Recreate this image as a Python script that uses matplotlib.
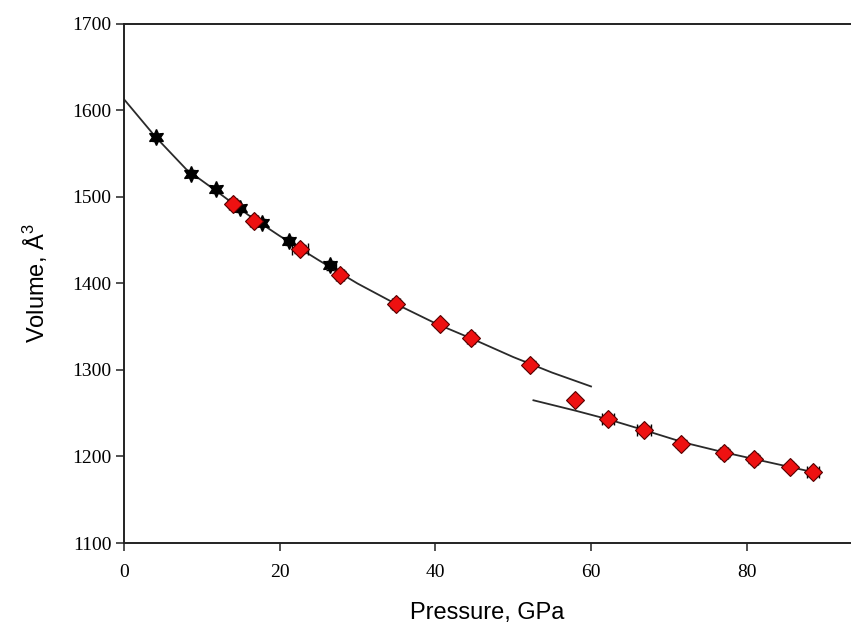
import numpy as np
import matplotlib
matplotlib.use('Agg')
import matplotlib.pyplot as plt

plt.rcParams['mathtext.fontset'] = 'custom'
plt.rcParams['mathtext.rm'] = 'Liberation Sans'

# black stars (first data set)
starP = [4.1, 8.6, 11.8, 14.9, 17.7, 21.2, 26.5]
starV = [1569, 1527, 1509, 1487, 1470, 1449, 1421]
starPerr = [0.5, 0.5, 0.5, 0.6, 0.6, 0.7, 0.7]
starVerr = [4, 4, 4, 4, 4, 5, 5]

# red diamonds (second data set)
diaP = [14.0, 16.7, 22.6, 27.7, 34.9, 40.6, 44.6, 52.2, 58.0, 62.2, 66.8, 71.5, 77.1, 81.0, 85.6, 88.5]
diaV = [1492, 1472, 1440, 1410, 1376, 1353, 1337, 1306, 1265, 1243, 1231, 1215, 1204, 1197, 1188, 1182]
diaPerr = [0.5, 0.5, 1.0, 0.5, 0.5, 0.3, 0.5, 0.3, 0.0, 0.8, 0.85, 0.3, 0.5, 0.4, 0.3, 0.8]
diaVerr = [4, 3, 5, 4, 4, 3, 4, 4, 0, 4, 4, 4, 5, 5, 3, 4]

# fitted curves
fit1P = [0, 4, 8, 12, 16, 20, 25, 30, 35, 40, 45, 50, 55, 60]
fit1V = [1613, 1570, 1532, 1506, 1479, 1455, 1427, 1400, 1376, 1354, 1335, 1315, 1297, 1281]
fit2P = [52.6, 58, 62.2, 67, 72, 77, 82, 87, 89]
fit2V = [1265, 1253, 1243, 1230, 1216, 1205, 1195, 1185, 1181]

fig = plt.figure(figsize=(8.51, 6.26), dpi=100)
ax = fig.add_axes([124 / 851, 1 - 543 / 626, 1 - 124 / 851, (543 - 24) / 626])

ax.plot(fit1P, fit1V, color='#2a2a2a', lw=1.3, zorder=2)
ax.plot(fit2P, fit2V, color='#2a2a2a', lw=1.3, zorder=2)

ax.errorbar(starP, starV, xerr=starPerr, yerr=starVerr, fmt='none',
            ecolor='black', elinewidth=1, capsize=3, zorder=3)
ax.plot(starP, starV, ls='none', marker=(6, 1, 0), ms=11.5, color='black', zorder=4)

ax.errorbar(diaP, diaV, xerr=diaPerr, yerr=diaVerr, fmt='none',
            ecolor='black', elinewidth=1, capsize=4, zorder=5)
ax.plot(diaP, diaV, ls='none', marker='D', ms=9.5, markerfacecolor='#ee1111',
        markeredgecolor='#550000', markeredgewidth=0.8, zorder=6)

ax.set_xlim(0, 93.4)
ax.set_ylim(1100, 1700)
ax.set_xticks([0, 20, 40, 60, 80])
ax.set_yticks(np.arange(1100, 1701, 100))

ax.spines['right'].set_visible(False)
for s in ['left', 'bottom', 'top']:
    ax.spines[s].set_linewidth(1.4)
    ax.spines[s].set_color('#222222')

ax.tick_params(direction='out', length=6, width=1.1, color='#222222')
for lab in ax.get_xticklabels() + ax.get_yticklabels():
    lab.set_fontfamily('Liberation Serif')
    lab.set_fontsize(14)
ax.tick_params(axis='x', pad=9)
ax.tick_params(axis='y', pad=3)

ax.set_xlabel('Pressure, GPa', fontfamily='Liberation Sans', fontsize=17, labelpad=15)
ax.set_ylabel(r'Volume, Å$^{\mathregular{3}}$', fontfamily='Liberation Sans',
              fontsize=17, labelpad=16)

fig.savefig('out.png', dpi=100)
